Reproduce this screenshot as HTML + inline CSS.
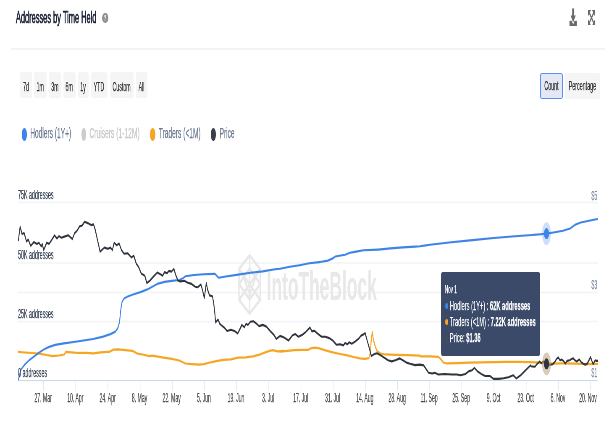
<!DOCTYPE html>
<html lang="en"><head><meta charset="utf-8"><title>Addresses by Time Held</title>
<style>
html,body{margin:0;padding:0;background:#fff;}
body{width:611px;height:423px;overflow:hidden;position:relative;font-family:"Liberation Sans",Arial,sans-serif;}
#w{filter:blur(0.45px);will-change:transform;position:absolute;left:0;top:0;width:1454.8px;height:423px;transform:scaleX(0.4200);transform-origin:0 0;background:#fff;}
#w *{box-sizing:border-box;}
.abs{position:absolute;white-space:nowrap;}
b{font-weight:700;}
.box{border-radius:5px / 2.5px;background:#f5f5f5;}
svg.chart{position:absolute;left:0;top:0;}
</style></head><body><div id="w">

<div class="abs" style="left:38.1px;top:7.6px;font-size:16.8px;line-height:20.2px;color:#1d2538;-webkit-text-stroke:0.25px #1d2538;transform:scaleX(1.053);transform-origin:0 0;-webkit-text-stroke:0.7px #1d2538;">Addresses by Time Held</div>
<div class="abs" style="left:243.1px;top:13px;width:14.5px;height:10.2px;border-radius:50%;background:#8f8f8f;color:#fff;font-size:9px;line-height:10.6px;text-align:center;font-weight:700;">?</div>
<svg class="abs" style="left:1354.3px;top:7px" width="21.4" height="20" viewBox="0 0 18 20" preserveAspectRatio="none"><path d="M1.6 13.8 H16.4 V19 H1.6 Z" fill="#6b6b6b"/><path d="M3.8 8.6 H14.2 L9 15.6 Z" fill="#6b6b6b" stroke="#fff" stroke-width="2.2"/><path d="M9 1.4 V10" stroke="#6b6b6b" stroke-width="4" fill="none"/><path d="M3.8 8.6 H14.2 L9 15.6 Z" fill="#6b6b6b"/></svg>
<svg class="abs" style="left:1400.0px;top:9.5px" width="16.7" height="15.6" viewBox="0 0 14 15.6" preserveAspectRatio="none"><g fill="none" stroke="#6b6b6b" stroke-width="2"><path d="M1.5 1.5 L12.5 14.1 M12.5 1.5 L1.5 14.1"/></g><g fill="#6b6b6b"><path d="M0 0 H6 L0 6.4 Z"/><path d="M14 0 H8 L14 6.4 Z"/><path d="M0 15.6 H6 L0 9.2 Z"/><path d="M14 15.6 H8 L14 9.2 Z"/></g></svg>
<div class="abs" style="left:26.2px;top:48px;width:1414.3px;height:2px;background:#f3f3f3"></div>
<div class="abs box" style="left:48.3px;top:72px;width:28.1px;height:26.2px"></div>
<div class="abs" style="left:54.9px;top:78.8px;font-size:13.0px;line-height:15.6px;color:#303030;-webkit-text-stroke:0.25px #303030;transform:scaleX(0.960);transform-origin:0 0;">7d</div>
<div class="abs box" style="left:81.2px;top:72px;width:30.2px;height:26.2px"></div>
<div class="abs" style="left:87.1px;top:78.8px;font-size:13.0px;line-height:15.6px;color:#303030;-webkit-text-stroke:0.25px #303030;transform:scaleX(0.960);transform-origin:0 0;">1m</div>
<div class="abs box" style="left:116.2px;top:72px;width:29.3px;height:26.2px"></div>
<div class="abs" style="left:121.7px;top:78.8px;font-size:13.0px;line-height:15.6px;color:#303030;-webkit-text-stroke:0.25px #303030;transform:scaleX(0.960);transform-origin:0 0;">3m</div>
<div class="abs box" style="left:150.7px;top:72px;width:29.8px;height:26.2px"></div>
<div class="abs" style="left:156.4px;top:78.8px;font-size:13.0px;line-height:15.6px;color:#303030;-webkit-text-stroke:0.25px #303030;transform:scaleX(0.960);transform-origin:0 0;">6m</div>
<div class="abs box" style="left:185.7px;top:72px;width:25.2px;height:26.2px"></div>
<div class="abs" style="left:191.2px;top:78.8px;font-size:13.0px;line-height:15.6px;color:#303030;-webkit-text-stroke:0.25px #303030;transform:scaleX(0.960);transform-origin:0 0;">1y</div>
<div class="abs box" style="left:216.7px;top:72px;width:39.3px;height:26.2px"></div>
<div class="abs" style="left:223.3px;top:78.8px;font-size:13.0px;line-height:15.6px;color:#303030;-webkit-text-stroke:0.25px #303030;transform:scaleX(0.960);transform-origin:0 0;">YTD</div>
<div class="abs box" style="left:261.7px;top:72px;width:56.2px;height:26.2px"></div>
<div class="abs" style="left:267.8px;top:78.8px;font-size:13.0px;line-height:15.6px;color:#303030;-webkit-text-stroke:0.25px #303030;transform:scaleX(0.960);transform-origin:0 0;">Custom</div>
<div class="abs box" style="left:323.8px;top:72px;width:27.4px;height:26.2px"></div>
<div class="abs" style="left:330.1px;top:78.8px;font-size:13.0px;line-height:15.6px;color:#303030;-webkit-text-stroke:0.25px #303030;transform:scaleX(0.960);transform-origin:0 0;">All</div>
<div class="abs box" style="left:1286.2px;top:73px;width:54.0px;height:25.6px;background:#e3e8f4;border:solid #5b8ff0;border-width:1px 2.4px"></div>
<div class="abs box" style="left:1344.0px;top:73px;width:85.0px;height:25.6px"></div>
<div class="abs" style="left:1295.9px;top:78.2px;font-size:13.0px;line-height:15.6px;color:#303030;-webkit-text-stroke:0.25px #303030;transform:scaleX(0.975);transform-origin:0 0;">Count</div>
<div class="abs" style="left:1353.8px;top:78.2px;font-size:13.0px;line-height:15.6px;color:#303030;-webkit-text-stroke:0.25px #303030;transform:scaleX(0.981);transform-origin:0 0;">Percentage</div>
<div class="abs" style="left:52.4px;top:128.4px;width:11.7px;height:12.2px;border-radius:50%;background:#3d84e6"></div>
<div class="abs" style="left:72.4px;top:125.3px;font-size:14.8px;line-height:17.8px;color:#6a7890;-webkit-text-stroke:0.25px #6a7890;transform:scaleX(1.062);transform-origin:0 0;">Hodlers (1Y+)</div>
<div class="abs" style="left:193.6px;top:128.4px;width:11.9px;height:12.2px;border-radius:50%;background:#cccccc"></div>
<div class="abs" style="left:212.8px;top:125.3px;font-size:14.8px;line-height:17.8px;color:#c6c6c6;-webkit-text-stroke:0.25px #c6c6c6;transform:scaleX(1.077);transform-origin:0 0;">Cruisers (1-12M)</div>
<div class="abs" style="left:356.7px;top:128.4px;width:12.9px;height:12.2px;border-radius:50%;background:#f5a623"></div>
<div class="abs" style="left:377.8px;top:125.3px;font-size:14.8px;line-height:17.8px;color:#6a7890;-webkit-text-stroke:0.25px #6a7890;transform:scaleX(1.066);transform-origin:0 0;">Traders (&lt;1M)</div>
<div class="abs" style="left:502.4px;top:128.4px;width:11.9px;height:12.2px;border-radius:50%;background:#3a3f4a"></div>
<div class="abs" style="left:523.1px;top:125.3px;font-size:14.8px;line-height:17.8px;color:#6a7890;-webkit-text-stroke:0.25px #6a7890;transform:scaleX(1.052);transform-origin:0 0;">Price</div>
<svg class="chart" width="1454.8" height="423" viewBox="0 0 1454.8 423">
<line x1="42.9" x2="1422.9" y1="202.5" y2="202.5" stroke="#f1f3f6" stroke-width="1.5"/>
<line x1="42.9" x2="1422.9" y1="263.0" y2="263.0" stroke="#f1f3f6" stroke-width="1.5"/>
<line x1="42.9" x2="1422.9" y1="321.5" y2="321.5" stroke="#f1f3f6" stroke-width="1.5"/>
<line x1="42.9" x2="1422.9" y1="292.5" y2="292.5" stroke="#f1f3f6" stroke-width="1.5"/>
<line x1="42.9" x2="1422.9" y1="380.5" y2="380.5" stroke="#ccd6eb" stroke-width="1"/>
<line x1="103.8" x2="103.8" y1="380.5" y2="390.5" stroke="#dbe2f1" stroke-width="1.3"/>
<line x1="180.4" x2="180.4" y1="380.5" y2="390.5" stroke="#dbe2f1" stroke-width="1.3"/>
<line x1="257.0" x2="257.0" y1="380.5" y2="390.5" stroke="#dbe2f1" stroke-width="1.3"/>
<line x1="333.6" x2="333.6" y1="380.5" y2="390.5" stroke="#dbe2f1" stroke-width="1.3"/>
<line x1="410.2" x2="410.2" y1="380.5" y2="390.5" stroke="#dbe2f1" stroke-width="1.3"/>
<line x1="486.8" x2="486.8" y1="380.5" y2="390.5" stroke="#dbe2f1" stroke-width="1.3"/>
<line x1="563.4" x2="563.4" y1="380.5" y2="390.5" stroke="#dbe2f1" stroke-width="1.3"/>
<line x1="640.0" x2="640.0" y1="380.5" y2="390.5" stroke="#dbe2f1" stroke-width="1.3"/>
<line x1="716.6" x2="716.6" y1="380.5" y2="390.5" stroke="#dbe2f1" stroke-width="1.3"/>
<line x1="793.2" x2="793.2" y1="380.5" y2="390.5" stroke="#dbe2f1" stroke-width="1.3"/>
<line x1="869.8" x2="869.8" y1="380.5" y2="390.5" stroke="#dbe2f1" stroke-width="1.3"/>
<line x1="946.4" x2="946.4" y1="380.5" y2="390.5" stroke="#dbe2f1" stroke-width="1.3"/>
<line x1="1023.0" x2="1023.0" y1="380.5" y2="390.5" stroke="#dbe2f1" stroke-width="1.3"/>
<line x1="1099.5" x2="1099.5" y1="380.5" y2="390.5" stroke="#dbe2f1" stroke-width="1.3"/>
<line x1="1176.1" x2="1176.1" y1="380.5" y2="390.5" stroke="#dbe2f1" stroke-width="1.3"/>
<line x1="1252.7" x2="1252.7" y1="380.5" y2="390.5" stroke="#dbe2f1" stroke-width="1.3"/>
<line x1="1329.3" x2="1329.3" y1="380.5" y2="390.5" stroke="#dbe2f1" stroke-width="1.3"/>
<line x1="1405.9" x2="1405.9" y1="380.5" y2="390.5" stroke="#dbe2f1" stroke-width="1.3"/>
<g fill="none" stroke="#e8e8e8" stroke-width="3.4" stroke-linejoin="round"><path d="M594.3 255.6 L619.5 269.0 L619.5 300.0 L594.3 313.6 L569.0 300.0 L569.0 269.0 Z"/><path d="M594.3 255.6 L594.3 313.6 M569.0 269.0 L619.5 300.0 M619.5 269.0 L569.0 300.0 M569.0 284.0 L594.3 268.5 L619.5 284.0 L594.3 299.5 Z M575.0 272.0 L596.7 297.0 M613.6 272.0 L591.9 297.0"/></g>
<text x="634.8" y="300.5" font-family="Liberation Sans, sans-serif" font-weight="700" font-size="40" fill="#e8e8e8" textLength="262.4" lengthAdjust="spacingAndGlyphs">IntoTheBlock</text>
<path d="M43.8 351.8 L58.5 352.5 L76.0 353.0 L93.5 353.7 L111.1 355.0 L125.7 356.2 L140.3 355.5 L153.2 354.5 L156.7 351.8 L169.5 352.3 L187.1 353.0 L204.6 352.8 L222.1 353.3 L239.7 352.3 L260.1 351.8 L270.1 349.6 L280.6 349.3 L298.1 350.1 L315.7 350.8 L327.4 353.7 L339.1 354.5 L350.7 355.7 L357.2 356.2 L362.6 355.6 L385.9 357.3 L409.3 358.8 L426.9 360.5 L441.5 363.5 L456.1 364.2 L473.6 364.7 L485.3 364.2 L499.9 362.5 L514.5 361.2 L532.1 359.8 L549.6 359.3 L567.2 357.6 L584.7 357.3 L602.2 356.3 L619.8 354.4 L634.4 351.9 L649.0 350.2 L660.7 351.4 L675.3 350.9 L666.7 351.6 L684.2 350.8 L701.7 350.1 L719.3 349.8 L733.9 349.8 L739.7 348.4 L748.5 347.6 L760.2 348.4 L774.8 350.3 L792.3 352.3 L809.9 354.0 L824.5 355.2 L842.0 357.0 L856.7 358.4 L868.3 358.9 L878.3 358.2 L881.8 352.8 L884.1 339.3 L886.5 331.9 L888.8 339.3 L893.5 346.6 L897.6 351.1 L906.3 353.5 L918.0 354.5 L941.4 355.0 L970.6 355.2 L999.9 355.7 L1000.0 356.3 L1023.4 356.3 L1043.8 356.8 L1049.7 359.3 L1055.5 362.5 L1064.3 363.5 L1087.7 363.2 L1116.9 362.7 L1146.1 362.5 L1175.4 362.2 L1204.6 362.0 L1233.8 362.0 L1263.1 362.2 L1276.8 362.3 L1289.2 362.9 L1311.0 363.6 L1342.2 363.3 L1373.4 363.6 L1395.2 364.2 L1423.2 363.8" fill="none" stroke="#f5a623" stroke-width="2.25" stroke-linejoin="round" stroke-linecap="round"/>
<path d="M43.8 379.5 L49.7 369.7 L58.5 364.8 L70.1 359.9 L81.8 356.2 L93.5 352.5 L105.2 349.3 L116.9 346.9 L131.5 344.9 L152.0 343.4 L175.4 342.0 L198.8 340.5 L222.1 339.0 L245.5 336.6 L263.1 334.1 L274.7 331.6 L280.6 328.0 L284.7 321.8 L287.6 309.6 L290.5 302.2 L295.2 298.5 L304.0 296.5 L318.6 294.3 L336.1 291.9 L350.7 289.4 L357.2 287.9 L374.3 283.9 L391.8 281.9 L409.3 280.9 L426.9 280.0 L435.6 278.2 L441.5 276.3 L461.9 275.0 L485.3 274.3 L511.6 273.8 L520.4 277.7 L537.9 276.5 L567.2 274.6 L596.4 272.8 L625.6 271.4 L654.8 269.2 L666.7 268.7 L690.0 266.8 L713.4 265.3 L736.8 263.3 L760.2 262.1 L780.7 260.6 L792.3 258.4 L798.2 256.5 L821.6 254.8 L833.3 252.8 L847.9 251.6 L865.4 250.3 L900.5 249.6 L929.7 248.4 L959.0 247.4 L988.2 246.6 L1000.0 246.3 L1023.8 244.8 L1074.5 242.2 L1125.2 240.1 L1175.7 238.0 L1226.4 236.3 L1266.9 235.0 L1287.1 234.2 L1301.2 233.6 L1317.9 232.5 L1340.5 230.8 L1357.4 228.5 L1368.6 224.9 L1382.6 222.5 L1402.4 220.7 L1422.6 219.0" fill="none" stroke="#3d84e6" stroke-width="2.1" stroke-linejoin="round" stroke-linecap="round"/>
<path d="M43.8 240.2 L47.9 226.7 L52.6 234.1 L57.3 232.9 L63.1 241.5 L67.2 239.5 L73.1 245.9 L80.7 242.0 L87.7 243.9 L92.4 242.7 L98.2 246.4 L100.5 243.9 L104.1 250.1 L111.1 242.7 L116.9 243.9 L122.8 240.2 L129.8 235.3 L135.6 238.5 L140.3 236.1 L146.1 237.8 L153.2 236.6 L162.5 235.3 L172.2 239.1 L177.9 232.9 L183.1 231.0 L189.5 226.4 L195.5 225.5 L201.4 221.8 L209.0 223.1 L216.9 225.1 L222.8 224.4 L226.6 229.6 L238.3 251.7 L248.4 247.6 L257.2 248.8 L263.1 247.6 L267.7 250.1 L271.8 242.7 L277.7 245.2 L283.5 243.4 L289.4 250.1 L295.2 253.7 L304.0 253.3 L312.7 257.4 L318.6 255.7 L324.4 263.6 L330.3 267.2 L336.1 273.4 L344.9 275.8 L349.7 283.1 L356.7 280.7 L365.5 276.5 L374.3 272.6 L383.0 274.6 L387.1 275.8 L391.8 272.1 L397.6 273.3 L402.3 270.9 L408.2 271.6 L414.0 268.9 L418.1 274.6 L423.9 280.7 L429.8 281.4 L438.6 280.7 L447.3 282.7 L456.1 283.9 L464.9 286.8 L470.7 287.3 L478.3 284.4 L482.4 290.5 L486.5 297.9 L491.2 283.1 L494.1 289.3 L498.8 295.4 L505.8 296.2 L508.7 302.8 L511.6 313.8 L513.4 322.4 L519.2 319.5 L523.3 323.7 L529.2 326.1 L535.0 328.1 L540.9 331.0 L549.6 329.8 L558.4 331.0 L566.0 333.5 L571.8 328.6 L575.9 324.9 L581.8 327.3 L585.9 323.7 L590.5 324.9 L596.4 321.7 L603.4 321.2 L611.0 323.7 L616.8 326.1 L625.6 324.9 L634.4 326.6 L643.2 331.0 L651.9 334.7 L657.8 338.9 L666.5 335.9 L675.4 337.3 L687.1 340.5 L695.9 335.6 L702.9 333.9 L710.5 336.8 L719.3 334.9 L728.0 331.9 L738.0 327.5 L742.7 331.4 L748.5 330.7 L757.3 333.9 L766.0 336.8 L774.8 336.8 L783.6 338.1 L792.3 340.5 L801.1 344.7 L809.9 344.2 L817.5 345.4 L821.6 343.0 L827.4 344.2 L831.5 342.2 L837.4 343.7 L845.0 341.7 L853.7 338.8 L859.6 335.6 L865.4 334.4 L869.5 333.1 L874.2 340.5 L880.0 349.1 L884.1 356.0 L891.7 354.0 L897.6 353.3 L906.3 355.2 L915.1 357.7 L923.9 360.2 L932.6 361.4 L941.4 360.2 L951.9 358.4 L959.0 360.2 L967.7 362.6 L976.5 363.8 L988.2 365.1 L999.9 364.6 L1008.8 365.4 L1014.6 369.1 L1020.5 372.8 L1029.2 373.5 L1035.1 372.8 L1043.8 374.5 L1058.5 374.0 L1076.0 374.5 L1087.7 374.5 L1096.5 375.2 L1108.1 374.0 L1116.9 371.1 L1123.9 370.3 L1129.8 367.9 L1137.4 371.6 L1146.1 374.0 L1154.9 376.0 L1166.6 376.0 L1175.4 378.9 L1187.1 378.9 L1198.8 378.2 L1210.4 377.2 L1222.1 375.2 L1229.2 378.4 L1239.7 375.2 L1251.4 370.3 L1263.1 365.4 L1264.3 366.2 L1273.6 366.8 L1278.3 364.2 L1284.5 361.6 L1289.2 363.3 L1293.9 361.6 L1301.1 363.8 L1307.9 364.9 L1315.7 364.2 L1320.4 362.3 L1325.1 359.0 L1329.1 357.4 L1333.5 360.3 L1337.5 359.6 L1341.6 360.9 L1345.9 363.6 L1350.0 360.9 L1356.2 360.3 L1360.9 359.0 L1364.6 358.3 L1368.7 360.3 L1373.4 361.6 L1379.0 359.4 L1384.3 362.3 L1388.9 363.8 L1393.6 364.6 L1398.3 363.6 L1403.0 359.6 L1406.1 357.0 L1409.2 360.9 L1412.3 364.2 L1417.0 360.3 L1420.1 360.9 L1423.2 360.9" fill="none" stroke="#2f343d" stroke-width="2.1" stroke-linejoin="round" stroke-linecap="round"/>
<ellipse cx="1301.2" cy="233.6" rx="10.5" ry="11.4" fill="#3d84e6" fill-opacity="0.25"/>
<ellipse cx="1301.2" cy="233.6" rx="6.0" ry="5.5" fill="#3d84e6"/>
<ellipse cx="1301.2" cy="363.8" rx="10.5" ry="11.4" fill="#b9a27a" fill-opacity="0.55"/>
<ellipse cx="1301.2" cy="363.8" rx="6.0" ry="5.5" fill="#2f343d"/>
</svg>
<div class="abs" style="left:42.6px;top:187.3px;font-size:13.0px;line-height:15.6px;color:#3a4558;-webkit-text-stroke:0.25px #3a4558;transform:scaleX(0.975);transform-origin:0 0;">75K addresses</div>
<div class="abs" style="left:42.6px;top:247.3px;font-size:13.0px;line-height:15.6px;color:#3a4558;-webkit-text-stroke:0.25px #3a4558;transform:scaleX(0.975);transform-origin:0 0;">50K addresses</div>
<div class="abs" style="left:42.6px;top:305.9px;font-size:13.0px;line-height:15.6px;color:#3a4558;-webkit-text-stroke:0.25px #3a4558;transform:scaleX(0.975);transform-origin:0 0;">25K addresses</div>
<div class="abs" style="left:42.6px;top:365.1px;font-size:13.0px;line-height:15.6px;color:#3a4558;-webkit-text-stroke:0.25px #3a4558;transform:scaleX(0.975);transform-origin:0 0;">0 addresses</div>
<div class="abs" style="left:1407.6px;top:187.9px;font-size:13.0px;line-height:15.6px;color:#808da2;-webkit-text-stroke:0.25px #808da2;transform:scaleX(0.971);transform-origin:0 0;">$5</div>
<div class="abs" style="left:1407.6px;top:276.7px;font-size:13.0px;line-height:15.6px;color:#808da2;-webkit-text-stroke:0.25px #808da2;transform:scaleX(0.971);transform-origin:0 0;">$3</div>
<div class="abs" style="left:1407.6px;top:365.1px;font-size:13.0px;line-height:15.6px;color:#808da2;-webkit-text-stroke:0.25px #808da2;transform:scaleX(0.971);transform-origin:0 0;">$1</div>
<div class="abs" style="left:82.0px;top:389.9px;font-size:13.5px;line-height:16.2px;color:#4e4e4e;-webkit-text-stroke:0.25px #4e4e4e;transform:scaleX(0.900);transform-origin:0 0;">27. Mar</div>
<div class="abs" style="left:159.9px;top:389.9px;font-size:13.5px;line-height:16.2px;color:#4e4e4e;-webkit-text-stroke:0.25px #4e4e4e;transform:scaleX(0.900);transform-origin:0 0;">10. Apr</div>
<div class="abs" style="left:236.5px;top:389.9px;font-size:13.5px;line-height:16.2px;color:#4e4e4e;-webkit-text-stroke:0.25px #4e4e4e;transform:scaleX(0.900);transform-origin:0 0;">24. Apr</div>
<div class="abs" style="left:314.1px;top:389.9px;font-size:13.5px;line-height:16.2px;color:#4e4e4e;-webkit-text-stroke:0.25px #4e4e4e;transform:scaleX(0.900);transform-origin:0 0;">8. May</div>
<div class="abs" style="left:387.4px;top:389.9px;font-size:13.5px;line-height:16.2px;color:#4e4e4e;-webkit-text-stroke:0.25px #4e4e4e;transform:scaleX(0.900);transform-origin:0 0;">22. May</div>
<div class="abs" style="left:469.0px;top:389.9px;font-size:13.5px;line-height:16.2px;color:#4e4e4e;-webkit-text-stroke:0.25px #4e4e4e;transform:scaleX(0.900);transform-origin:0 0;">5. Jun</div>
<div class="abs" style="left:542.2px;top:389.9px;font-size:13.5px;line-height:16.2px;color:#4e4e4e;-webkit-text-stroke:0.25px #4e4e4e;transform:scaleX(0.900);transform-origin:0 0;">19. Jun</div>
<div class="abs" style="left:624.2px;top:389.9px;font-size:13.5px;line-height:16.2px;color:#4e4e4e;-webkit-text-stroke:0.25px #4e4e4e;transform:scaleX(0.900);transform-origin:0 0;">3. Jul</div>
<div class="abs" style="left:697.5px;top:389.9px;font-size:13.5px;line-height:16.2px;color:#4e4e4e;-webkit-text-stroke:0.25px #4e4e4e;transform:scaleX(0.900);transform-origin:0 0;">17. Jul</div>
<div class="abs" style="left:774.1px;top:389.9px;font-size:13.5px;line-height:16.2px;color:#4e4e4e;-webkit-text-stroke:0.25px #4e4e4e;transform:scaleX(0.900);transform-origin:0 0;">31. Jul</div>
<div class="abs" style="left:847.9px;top:389.9px;font-size:13.5px;line-height:16.2px;color:#4e4e4e;-webkit-text-stroke:0.25px #4e4e4e;transform:scaleX(0.900);transform-origin:0 0;">14. Aug</div>
<div class="abs" style="left:924.5px;top:389.9px;font-size:13.5px;line-height:16.2px;color:#4e4e4e;-webkit-text-stroke:0.25px #4e4e4e;transform:scaleX(0.900);transform-origin:0 0;">28. Aug</div>
<div class="abs" style="left:1001.2px;top:389.9px;font-size:13.5px;line-height:16.2px;color:#4e4e4e;-webkit-text-stroke:0.25px #4e4e4e;transform:scaleX(0.900);transform-origin:0 0;">11. Sep</div>
<div class="abs" style="left:1077.4px;top:389.9px;font-size:13.5px;line-height:16.2px;color:#4e4e4e;-webkit-text-stroke:0.25px #4e4e4e;transform:scaleX(0.900);transform-origin:0 0;">25. Sep</div>
<div class="abs" style="left:1158.7px;top:389.9px;font-size:13.5px;line-height:16.2px;color:#4e4e4e;-webkit-text-stroke:0.25px #4e4e4e;transform:scaleX(0.900);transform-origin:0 0;">9. Oct</div>
<div class="abs" style="left:1231.9px;top:389.9px;font-size:13.5px;line-height:16.2px;color:#4e4e4e;-webkit-text-stroke:0.25px #4e4e4e;transform:scaleX(0.900);transform-origin:0 0;">23. Oct</div>
<div class="abs" style="left:1310.6px;top:389.9px;font-size:13.5px;line-height:16.2px;color:#4e4e4e;-webkit-text-stroke:0.25px #4e4e4e;transform:scaleX(0.900);transform-origin:0 0;">6. Nov</div>
<div class="abs" style="left:1379.0px;top:389.9px;font-size:13.5px;line-height:16.2px;color:#4e4e4e;-webkit-text-stroke:0.25px #4e4e4e;transform:scaleX(0.900);transform-origin:0 0;">20. Nov</div>
<div class="abs" style="left:1050.2px;top:271.5px;width:236.0px;height:84.4px;background:#3a4a68;border-radius:4px"></div>
<div class="abs" style="left:1058.8px;top:283.2px;font-size:11.0px;line-height:13.2px;color:#fff;-webkit-text-stroke:0.25px #fff;transform:scaleX(0.994);transform-origin:0 0;">Nov 1</div>
<div class="abs" style="left:1059.5px;top:303.0px;width:7.1px;height:6px;border-radius:50%;background:#3d84e6"></div>
<div class="abs" style="left:1070.7px;top:297.6px;font-size:13.0px;line-height:15.6px;color:#fff;-webkit-text-stroke:0.25px #fff;transform:scaleX(1.046);transform-origin:0 0;">Hodlers (1Y+) : <b>62K addresses</b></div>
<div class="abs" style="left:1059.5px;top:319.4px;width:7.1px;height:6px;border-radius:50%;background:#f5a623"></div>
<div class="abs" style="left:1070.7px;top:314.0px;font-size:13.0px;line-height:15.6px;color:#fff;-webkit-text-stroke:0.25px #fff;transform:scaleX(1.045);transform-origin:0 0;">Traders (&lt;1M) : <b>7.22K addresses</b></div>
<div class="abs" style="left:1059.5px;top:335.5px;width:7.1px;height:6px;border-radius:50%;background:#454c5b"></div>
<div class="abs" style="left:1070.7px;top:330.1px;font-size:13.0px;line-height:15.6px;color:#fff;-webkit-text-stroke:0.25px #fff;transform:scaleX(1.060);transform-origin:0 0;">Price: <b>$1.36</b></div>
</div></body></html>
